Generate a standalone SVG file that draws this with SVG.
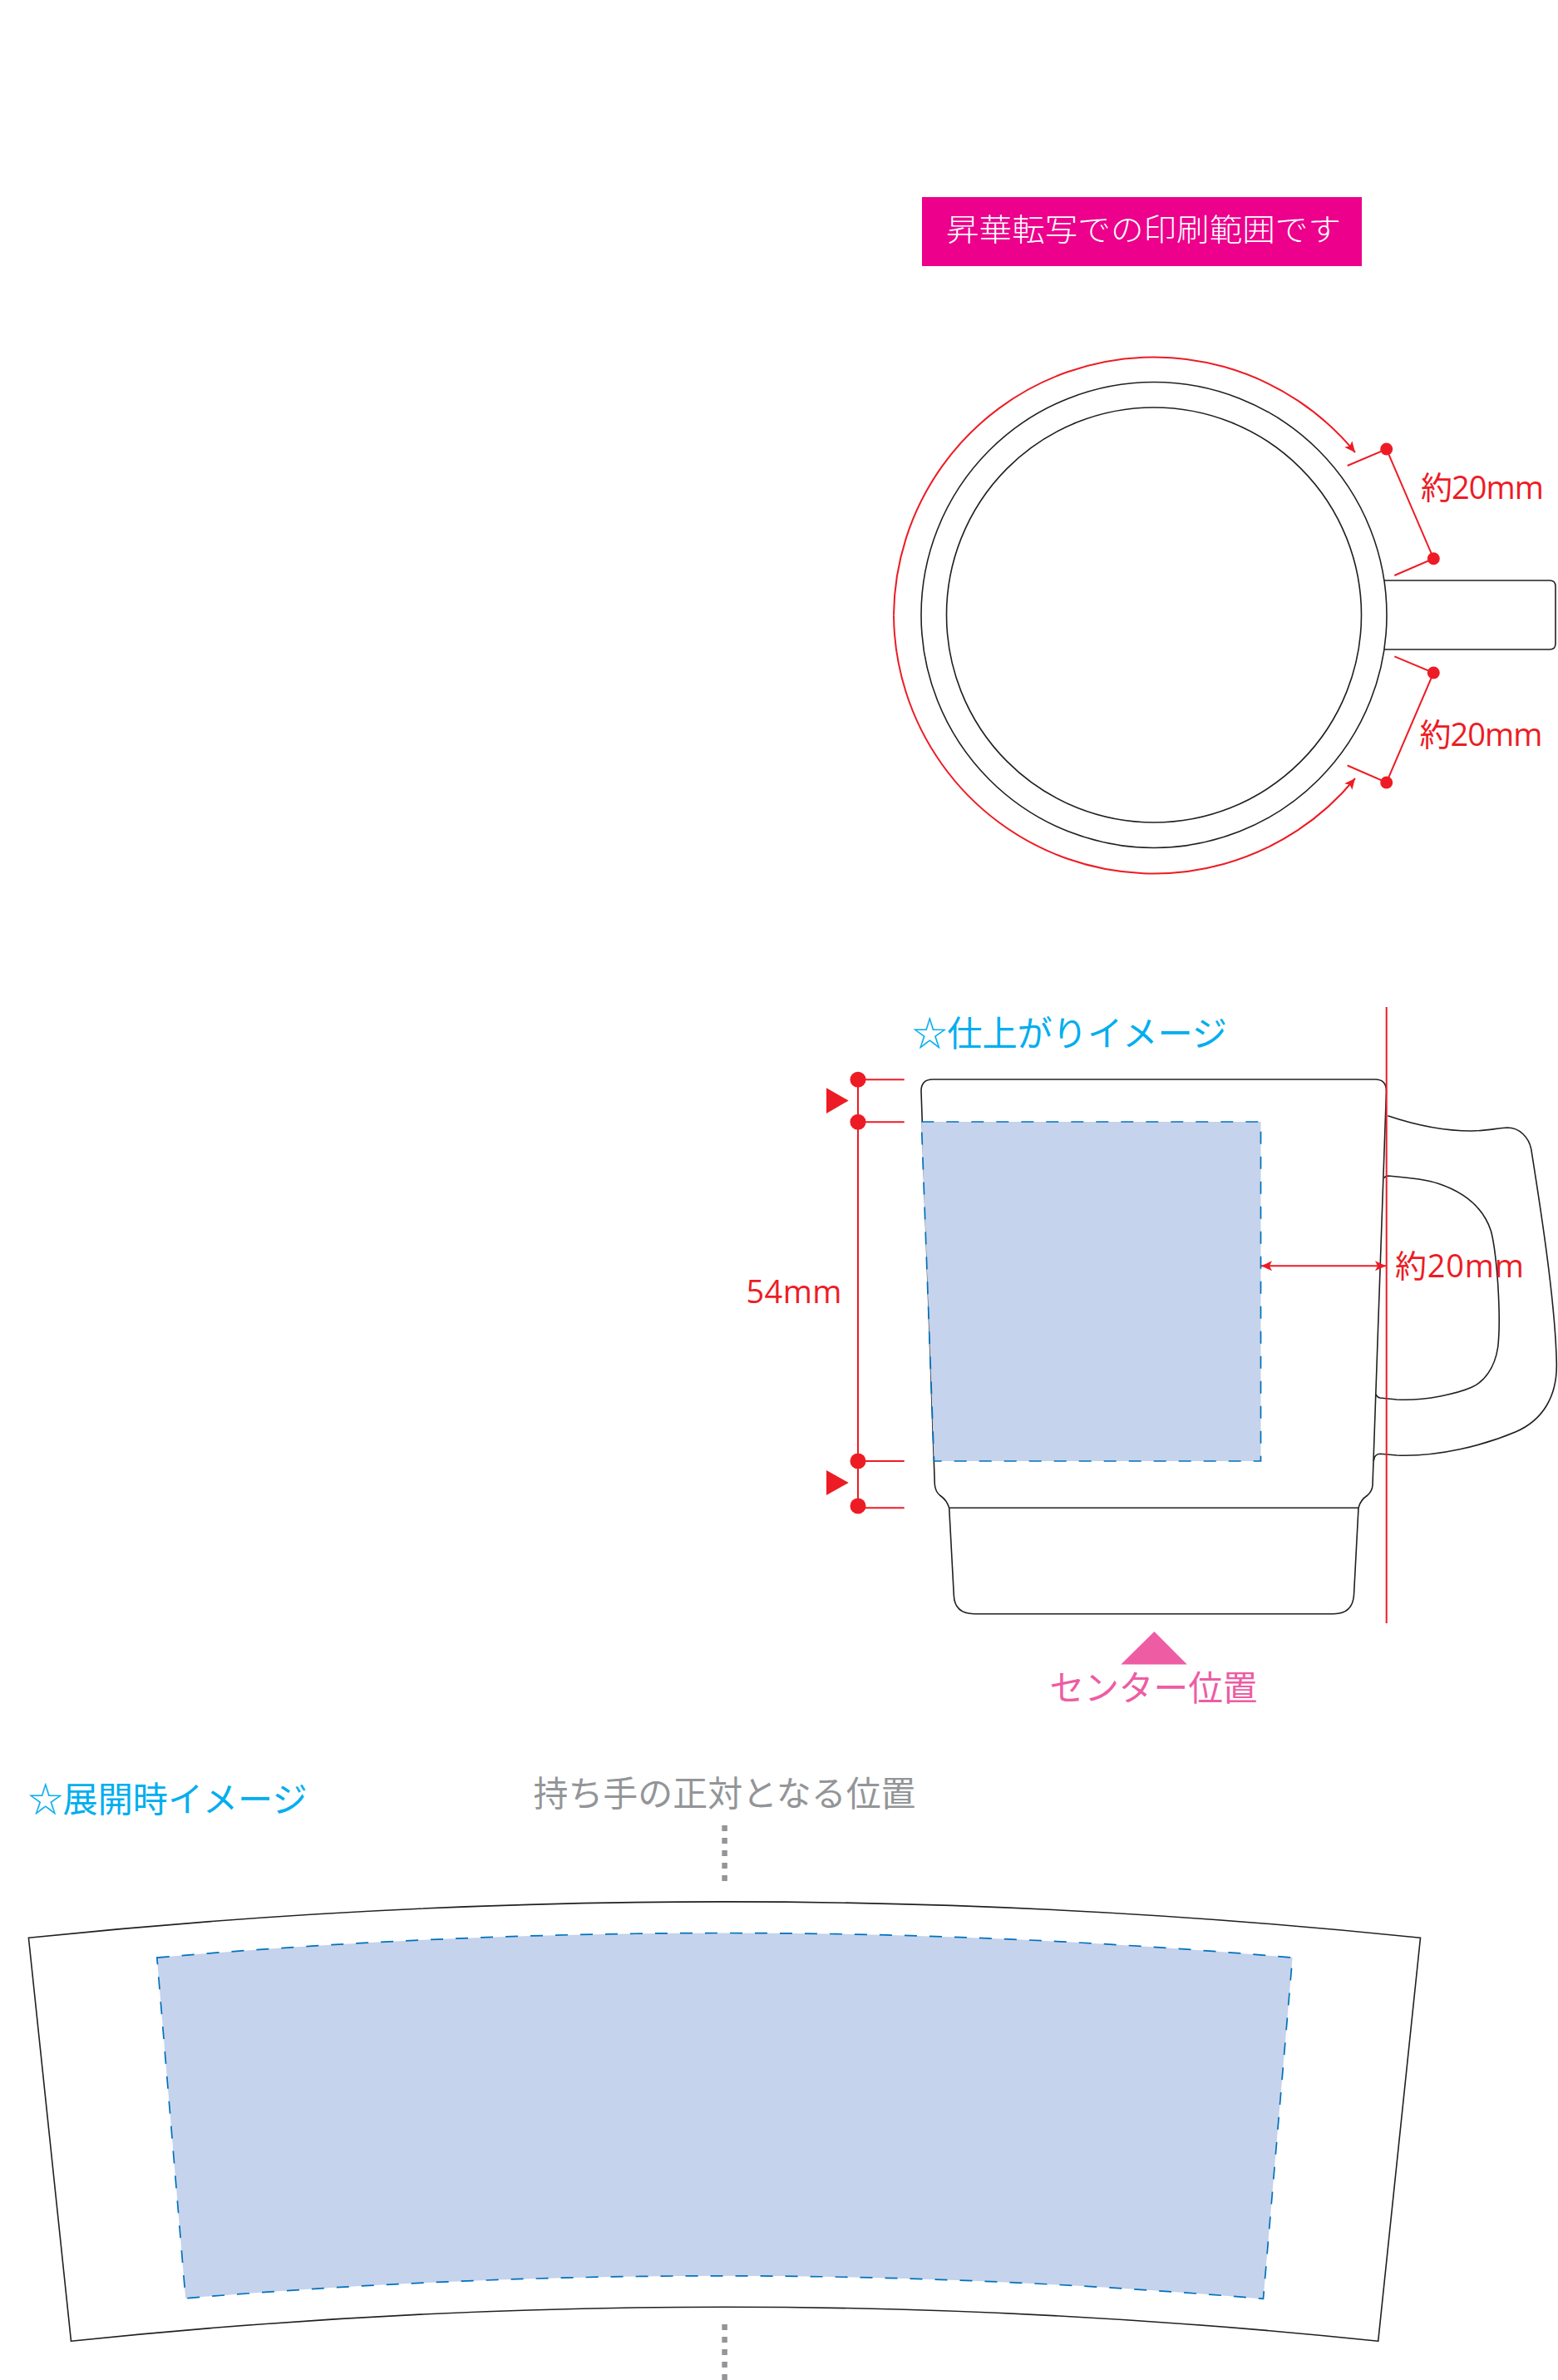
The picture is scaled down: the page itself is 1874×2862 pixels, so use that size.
<svg xmlns="http://www.w3.org/2000/svg" width="1874" height="2862" viewBox="0 0 1874 2862">
<style>
text{font-family:"Open Sans","Noto Sans CJK JP",sans-serif;font-weight:400}
.j{font-family:"Noto Sans CJK JP",sans-serif;font-size:42px}
.o{fill:none;stroke:#231f20;stroke-width:1.6}
.w{fill:#fff;stroke:#231f20;stroke-width:1.6}
.r{fill:none;stroke:#ed1c24;stroke-width:2}
.d{fill:#ed1c24}
.t{fill:#ed1c24;font-size:38px}
.a{fill:#c5d3ec;stroke:#0071bc;stroke-width:1.7;stroke-dasharray:15 15}
.g{fill:none;stroke:#939598;stroke-width:6.5;stroke-dasharray:7 8}
</style>
<defs>
<marker id="ah" markerUnits="userSpaceOnUse" markerWidth="16" markerHeight="16" refX="14" refY="8" orient="auto-start-reverse" viewBox="0 0 16 16"><path d="M14,8 L1,2 L4,8 L1,14 Z" fill="#ed1c24"/></marker>
</defs>
<rect width="1874" height="2862" fill="#fff"/>

<g id="banner">
<rect x="1109" y="237" width="529" height="83" fill="#ec008c"/>
<text x="1138" y="290" fill="#fff" class="j" style="font-size:37px;font-weight:300" textLength="475" lengthAdjust="spacingAndGlyphs">昇華転写での印刷範囲です</text>
</g>

<g id="top-view">
<path class="w" d="M1660,698 L1864,698 Q1871,698 1871,705 L1871,774 Q1871,781 1864,781 L1660,781"/>
<circle class="w" cx="1388" cy="739.5" r="280"/>
<circle class="o" cx="1388" cy="739.5" r="249.5"/>
</g>

<g id="side-view">
<path class="o" d="M1669.3,1341.7 C1700,1352 1735,1360 1770,1360 C1785,1360 1800,1357 1813,1356 C1828,1356 1839,1368 1841.7,1381.7 C1855,1465 1871,1570 1872.3,1640 C1873,1680 1855,1708 1823.3,1721.7 C1785,1738 1730,1752 1680,1750 L1660,1748.3 Q1653,1748.5 1652.3,1756.7"/>
<path class="o" d="M1665,1416.7 Q1666,1414 1670,1414 C1695,1416 1715,1418 1730,1423.3 C1765,1435 1785,1455 1793.3,1480 C1798,1497 1800,1520 1801.7,1544 C1803,1565 1804,1600 1801.7,1620 C1798,1645 1785,1662 1770,1668.3 C1755,1675 1715,1685 1680,1683 L1660,1681 Q1656,1680 1655,1676.7"/>
<path class="o" d="M1108,1312 Q1108,1298 1122,1298 L1654,1298 Q1667.5,1298 1667.5,1312 L1651,1786 Q1650.5,1793 1645,1798 Q1636,1804 1634,1813.3 L1141.7,1813.3 Q1139,1804 1131,1798.5 Q1125,1794 1124.3,1785 Z"/>
<path class="o" d="M1141.7,1813.3 L1147.3,1918 Q1148,1940.7 1172,1940.7 L1604,1940.7 Q1627,1940.7 1628.5,1918 L1634,1813.3"/>
<path id="side-print-area" class="a" d="M1108.3,1349 L1516.5,1349 L1516.5,1757 L1123.5,1757 Z"/>
</g>

<g id="flat-view">
<path class="o" d="M34.4,2330.3 A8111,8111 0 0 1 1708.5,2330.3 L1657.7,2815.3 A7555,7555 0 0 0 85.5,2815.3 Z"/>
<path id="flat-print-area" class="a" d="M188.8,2354.1 A7895,7895 0 0 1 1554.6,2354.1 L1519.5,2764.4 A7704,7704 0 0 0 223.2,2763.8 Z"/>
</g>

<g id="connectors">
<path class="r" d="M1075,739.5 A313,313 0 0 1 1630,544" marker-end="url(#ah)"/>
<path class="r" d="M1075,739.5 A313,313 0 0 0 1630,936" marker-end="url(#ah)"/>
<path class="r" d="M1620.7,560 L1667.7,540 L1724.3,671.7 L1677.3,692"/>
<path class="r" d="M1620.7,920.5 L1667.7,941 L1724.3,809 L1677.3,789.4"/>
<path class="r" d="M1667.7,1211 V1952"/>
<path class="r" d="M1032,1298.3 V1811"/>
<path class="r" d="M1032,1298.3 H1087.7 M1032,1349.3 H1087.7 M1032,1757 H1087.7 M1032,1813.3 H1087.7"/>
<path class="r" d="M1517,1522.3 H1667" marker-start="url(#ah)" marker-end="url(#ah)"/>
<path class="g" d="M871.6,2195 V2262"/>
<path class="g" d="M871.6,2795 V2862"/>
</g>

<g id="top-markers">
<circle class="d" cx="1667.7" cy="540" r="7.5"/>
<circle class="d" cx="1724.3" cy="671.7" r="7.5"/>
<circle class="d" cx="1724.3" cy="809" r="7.5"/>
<circle class="d" cx="1667.7" cy="941" r="7.5"/>
<text class="t" x="1709" y="600" textLength="148" lengthAdjust="spacing">約20mm</text>
<text class="t" x="1707.5" y="897" textLength="148" lengthAdjust="spacing">約20mm</text>
</g>

<g id="side-markers">
<circle class="d" cx="1032" cy="1298.3" r="9.5"/>
<circle class="d" cx="1032" cy="1349.3" r="9.5"/>
<circle class="d" cx="1032" cy="1757" r="9.5"/>
<circle class="d" cx="1032" cy="1811" r="9.5"/>
<path class="d" d="M994,1308.3 L1020.7,1323.5 L994,1339 Z"/>
<path class="d" d="M994,1768 L1020.7,1783 L994,1798 Z"/>
<text class="t" x="897.5" y="1566.5" textLength="115" lengthAdjust="spacing">54mm</text>
<text class="t" x="1678" y="1535.6" textLength="155" lengthAdjust="spacing">約20mm</text>
</g>

<g id="side-title"><text class="j" x="1097" y="1258" fill="#00aeef" textLength="379" lengthAdjust="spacingAndGlyphs">☆仕上がりイメージ</text></g>

<g id="center-mark">
<path d="M1388.4,1962 L1427.8,2001.4 L1348.3,2001.4 Z" fill="#ee5ca4"/>
<text class="j" x="1262.5" y="2044.6" fill="#ee5ca4" textLength="250" lengthAdjust="spacingAndGlyphs">センター位置</text>
</g>

<g id="flat-title"><text class="j" x="33.5" y="2179" fill="#00aeef" textLength="336" lengthAdjust="spacingAndGlyphs">☆展開時イメージ</text></g>
<g id="handle-note"><text class="j" x="641.5" y="2172" fill="#939598" textLength="460" lengthAdjust="spacingAndGlyphs">持ち手の正対となる位置</text></g>
</svg>
